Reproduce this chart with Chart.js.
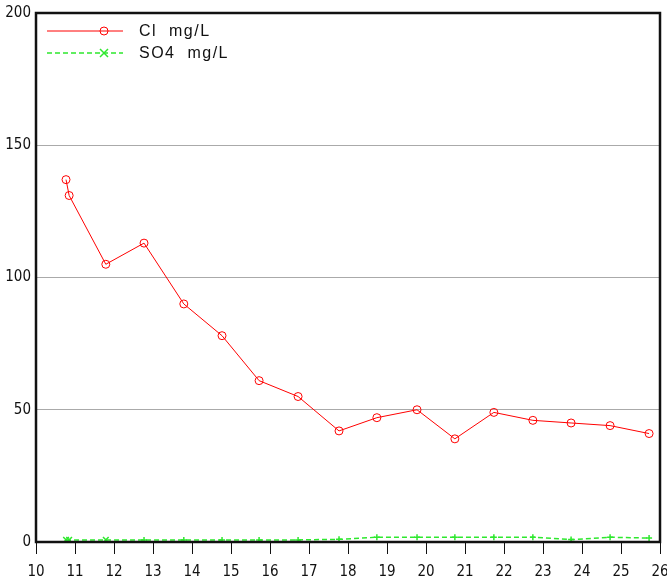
<!DOCTYPE html>
<html>
<head>
<meta charset="utf-8">
<script src="https://cdn.jsdelivr.net/npm/chart.js@4/dist/chart.umd.min.js"></script>
<style>
  html, body { margin: 0; padding: 0; background: #fff; }
  #wrap { width: 667px; height: 581px; }
</style>
</head>
<body>
<div id="wrap"><canvas id="chart" width="667" height="581"></canvas></div>
<script>
// sample positions along the x axis
const xValues = [10.77, 10.85, 11.79, 12.77, 13.79, 14.77, 15.72, 16.72, 17.77, 18.74, 19.77, 20.74, 21.74, 22.74, 23.72, 24.72, 25.72];
// Cl mg/L readings
const clValues = [137, 131, 105, 113, 90, 78, 61, 55, 42, 47, 50, 39, 49, 46, 45, 44, 41];
// SO4 mg/L readings
const so4Values = [0.8, 0.8, 0.8, 0.8, 0.8, 0.8, 0.8, 0.8, 1.0, 1.8, 1.8, 1.8, 1.8, 1.8, 0.9, 1.8, 1.5];
const seriesNames = ['Cl  mg/L', 'SO4  mg/L'];
const xTicks = [10, 11, 12, 13, 14, 15, 16, 17, 18, 19, 20, 21, 22, 23, 24, 25, 26];
const yTicks = [0, 50, 100, 150, 200];

const RED = '#ff0000';
const GREEN = '#2ee82e';
const FONT = "'Liberation Sans Narrow', 'DejaVu Sans Condensed', 'Liberation Sans', sans-serif";

const toPoints = (ys) => xValues.map((x, i) => ({ x: x, y: ys[i] }));

// frame around the plot area
const framePlugin = {
  id: 'frame',
  afterDraw(chart) {
    const { ctx, chartArea: a } = chart;
    ctx.save();
    ctx.strokeStyle = '#111';
    ctx.lineWidth = 2.5;
    ctx.strokeRect(a.left, a.top, a.right - a.left, a.bottom - a.top);
    ctx.restore();
  }
};

// legend drawn inside the plot, line + marker + label
const legendPlugin = {
  id: 'innerLegend',
  afterDraw(chart) {
    const { ctx } = chart;
    const rows = [
      { y: 31, color: RED, dash: [], marker: 'circle', width: 1 },
      { y: 53, color: GREEN, dash: [5, 3], marker: 'x', width: 1.5 }
    ];
    ctx.save();
    rows.forEach((r, i) => {
      ctx.strokeStyle = r.color;
      ctx.lineWidth = r.width;
      ctx.setLineDash(r.dash);
      ctx.beginPath();
      ctx.moveTo(47, r.y);
      ctx.lineTo(123, r.y);
      ctx.stroke();
      ctx.setLineDash([]);
      ctx.beginPath();
      if (r.marker === 'circle') {
        ctx.arc(104, r.y, 4, 0, Math.PI * 2);
      } else {
        ctx.moveTo(100, r.y - 4); ctx.lineTo(108, r.y + 4);
        ctx.moveTo(108, r.y - 4); ctx.lineTo(100, r.y + 4);
      }
      ctx.stroke();
      ctx.fillStyle = '#111';
      ctx.font = "16px 'Liberation Sans', sans-serif";
      ctx.letterSpacing = '1.5px';
      ctx.textBaseline = 'middle';
      ctx.fillText(seriesNames[i], 139, r.y + 1);
    });
    ctx.restore();
  }
};

new Chart(document.getElementById('chart'), {
  type: 'line',
  data: {
    datasets: [
      {
        label: seriesNames[0],
        data: toPoints(clValues),
        borderColor: RED,
        backgroundColor: 'transparent',
        borderWidth: 1,
        pointStyle: 'circle',
        pointRadius: 4,
        pointBorderColor: RED,
        pointBackgroundColor: 'transparent',
        pointBorderWidth: 1,
        tension: 0
      },
      {
        label: seriesNames[1],
        data: toPoints(so4Values),
        borderColor: GREEN,
        backgroundColor: 'transparent',
        borderWidth: 1.5,
        borderDash: [5, 3],
        pointStyle: so4Values.map((v, i) => i < 3 ? 'crossRot' : 'cross'),
        pointRadius: so4Values.map((v, i) => i < 3 ? 4 : 3),
        pointBorderColor: GREEN,
        pointBorderWidth: 1.5,
        tension: 0
      }
    ]
  },
  options: {
    responsive: false,
    animation: false,
    layout: { padding: { top: 13, right: 7, left: 0, bottom: 0 } },
    plugins: {
      legend: { display: false },
      tooltip: { enabled: false }
    },
    scales: {
      x: {
        type: 'linear',
        min: 10,
        max: 26,
        afterFit: (s) => { s.height = 39; s.paddingLeft = 0; s.paddingRight = 0; },
        afterBuildTicks: (s) => { s.ticks = xTicks.map(v => ({ value: v })); },
        grid: { drawOnChartArea: false, drawTicks: true, tickLength: 12, color: '#111', lineWidth: 1 },
        border: { display: false },
        ticks: { color: '#111', padding: 9, maxRotation: 0, autoSkip: false, font: { family: FONT, size: 15 } }
      },
      y: {
        min: 0,
        max: 200,
        afterFit: (s) => { s.width = 36; s.paddingTop = 0; s.paddingBottom = 0; },
        afterBuildTicks: (s) => { s.ticks = yTicks.map(v => ({ value: v })); },
        grid: { drawTicks: false, color: '#aaa', lineWidth: 1 },
        border: { display: false },
        ticks: { color: '#111', padding: 5, font: { family: FONT, size: 15 } }
      }
    }
  },
  plugins: [framePlugin, legendPlugin]
});
</script>
</body>
</html>
